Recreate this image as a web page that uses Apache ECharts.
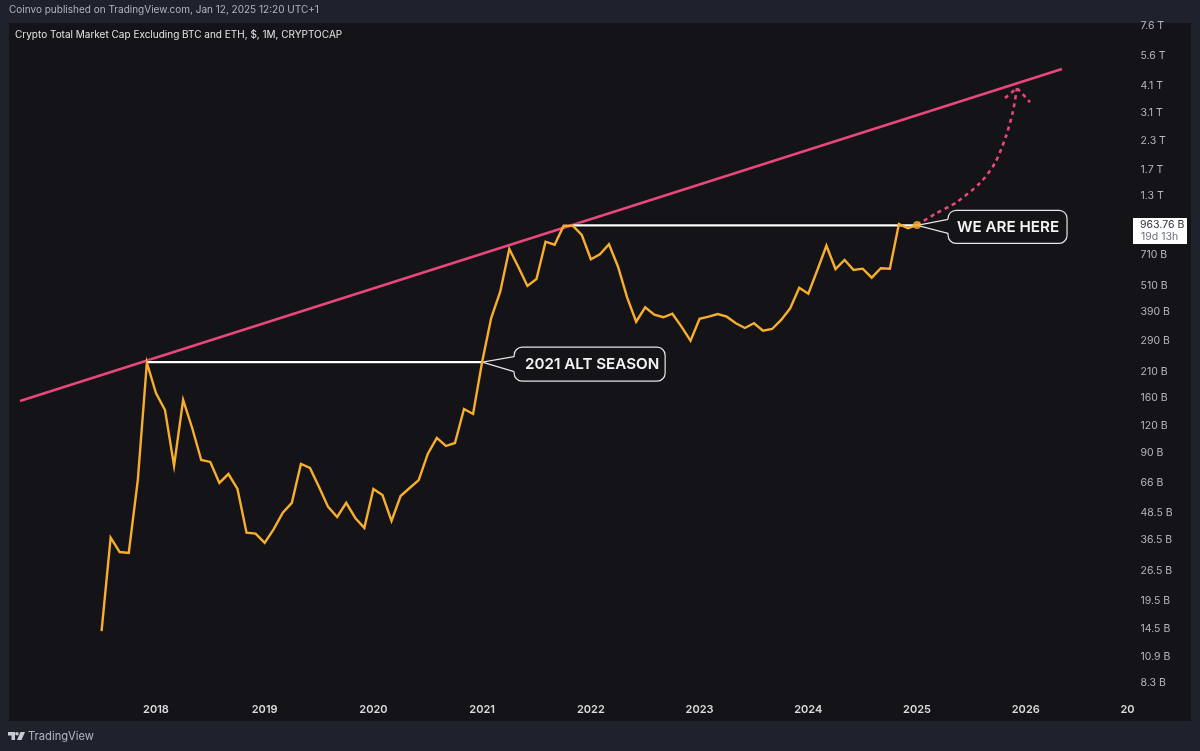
<!DOCTYPE html>
<html>
<head>
<meta charset="utf-8">
<title>Crypto Total Market Cap Excluding BTC and ETH</title>
<script src="https://cdn.jsdelivr.net/npm/echarts@6/dist/echarts.min.js"></script>
<style>
  html, body { margin: 0; padding: 0; background: #1e222d; }
  #chart { width: 1200px; height: 751px; }
</style>
</head>
<body>
<div id="chart"></div>
<script>
// monthly closes in billions of USD, first one is Jul 2017
const firstMonth = 2017.5
const monthlyCloses = [
  14.2, 37.5, 32.3, 32.0, 68.2, 230.6,
  168.4, 141.1, 79.2, 156.6, 117.1, 84.0, 82.3, 66.2, 72.6, 62.2, 39.5, 39.1,
  35.5, 41.0, 48.6, 53.8, 80.6, 77.3, 63.5, 51.6, 46.5, 53.8, 46.0, 41.5,
  62.2, 58.4, 44.6, 57.8, 62.8, 68.2, 89.4, 105.6, 97.1, 100.2, 142.6, 135.4,
  232.3, 366.8, 482.1, 750.9, 622.9, 511.5, 550, 810.2, 785.2, 956, 956, 868.4,
  674.9, 710.6, 788.5, 625, 454.7, 353, 410, 379.6, 369.6, 383.6, 335.2, 289.8,
  364, 371.9, 382.4, 371.9, 347.2, 330.7, 347.2, 321.5, 327.3, 359.4, 405.7, 502.4,
  472.1, 603.9, 777, 610.2, 669.9, 603.9, 612.2, 557.5, 614.7, 612.2, 973, 930.9,
  963.76
]
const lastPrice = [2025, 963.76]

// drawn annotations: [year, billions]
const trendLine = [[2016.75, 155], [2026.333, 4864]]
const levelOld = [[2017.9167, 232], [2021, 232]]
const levelNow = [[2021.8333, 960], [2025, 960]]
const projection = [
  [2025, 963.76], [2025.165, 1080], [2025.367, 1223], [2025.579, 1490],
  [2025.717, 1834], [2025.818, 2420], [2025.882, 3130], [2025.919, 3995]
]
const arrowHead = [[2025.809, 3601], [2025.919, 3995], [2026.039, 3454]]
const callouts = [
  [2021, 232, '2021 ALT SEASON'],
  [2025, 960, 'WE ARE HERE']
]

const yearTicks = [2018, 2019, 2020, 2021, 2022, 2023, 2024, 2025, 2026, 2027]
const priceTicks = [7600, 5600, 4100, 3100, 2300, 1700, 1300, 710, 510, 390, 290, 210,
  160, 120, 90, 66, 48.5, 36.5, 26.5, 19.5, 14.5, 10.9, 8.3]

const closes = monthlyCloses.map((v, i) => [firstMonth + i / 12, v])

const PANEL = '#131318'
const PINK = '#e9477c'
const ORANGE = '#f7ae2d'
const FONT = 'Inter'

// callout geometry, relative to the tip
const calloutBoxes = {
  '2021 ALT SEASON': { left: 32, right: 183, top: -15, bottom: 19, a: -5.5, b: 9.5, textDx: 2.5 },
  'WE ARE HERE': { left: 31, right: 150, top: -15, bottom: 18, a: -6, b: 8, textDx: 0.5 }
}

function renderCallout(params, api) {
  const tip = api.coord([api.value(0), api.value(1)])
  const text = callouts[params.dataIndex][2]
  const b = calloutBoxes[text]
  const x0 = tip[0] + b.left
  const x1 = tip[0] + b.right
  const y0 = tip[1] + b.top
  const y1 = tip[1] + b.bottom
  const stroke = { stroke: '#e6e6e8', lineWidth: 1.2, fill: 'none' }
  return {
    type: 'group',
    children: [
      {
        type: 'rect',
        shape: { x: x0, y: y0, width: x1 - x0, height: y1 - y0, r: 8 },
        style: { fill: PANEL, stroke: '#e6e6e8', lineWidth: 1.2 }
      },
      {
        type: 'polygon',
        shape: { points: [tip, [x0 + 1, tip[1] + b.a], [x0 + 1, tip[1] + b.b]] },
        style: { fill: PANEL }
      },
      { type: 'polyline', shape: { points: [[x0, tip[1] + b.a], tip, [x0, tip[1] + b.b]] }, style: stroke },
      {
        type: 'text',
        x: (x0 + x1) / 2 + b.textDx,
        y: (y0 + y1) / 2 + 0.5,
        style: {
          text: text,
          fill: '#f4f4f5',
          font: '600 15.2px ' + FONT,
          align: 'center',
          verticalAlign: 'middle'
        }
      }
    ]
  }
}

// white price tag on the scale
function renderPriceTag(params, api) {
  const y = api.coord([api.value(0), api.value(1)])[1]
  return {
    type: 'group',
    children: [
      {
        type: 'rect',
        shape: { x: 1133, y: y - 7, width: 54, height: 26 },
        style: { fill: '#ffffff' }
      },
      {
        type: 'text',
        x: 1140,
        y: y - 0.5,
        style: { text: '963.76 B', fill: '#2a2e39', font: '10.5px ' + FONT, verticalAlign: 'middle' }
      },
      {
        type: 'text',
        x: 1141,
        y: y + 12,
        style: { text: '19d 13h', fill: '#6a6d78', font: '10.5px ' + FONT, verticalAlign: 'middle' }
      }
    ]
  }
}

const myChart = echarts.init(document.getElementById('chart'), null, { renderer: 'canvas' })

const option = {
  animation: false,
  backgroundColor: '#1e222d',
  textStyle: { fontFamily: FONT },
  grid: { left: 11, top: 23, width: 1123.5, height: 672 },
  xAxis: {
    type: 'value',
    min: 2016.667,
    max: 2027,
    axisLine: { show: false },
    axisTick: { show: false },
    splitLine: { show: false },
    axisLabel: {
      customValues: yearTicks,
      margin: 9,
      color: '#dcdcde',
      fontSize: 11,
      fontWeight: 600,
      fontFamily: FONT,
      alignMaxLabel: 'right',
      formatter: v => (Math.round(v) === 2027 ? '20' : String(Math.round(v)))
    }
  },
  yAxis: {
    type: 'log',
    logBase: 10,
    position: 'right',
    min: 7.32,
    max: 7846,
    axisLine: { show: false },
    axisTick: { show: false },
    splitLine: { show: false },
    axisLabel: {
      customValues: priceTicks,
      margin: 6,
      color: '#b6b7bc',
      fontSize: 10.5,
      fontFamily: FONT,
      padding: [4, 0, 0, 0],
      formatter: v => (v >= 1000 ? v / 1000 + ' T' : v + ' B')
    }
  },
  graphic: [
    { type: 'rect', z: -10, silent: true, shape: { x: 9, y: 23, width: 1182, height: 698 }, style: { fill: PANEL } },
    { type: 'text', left: 9, top: 5, style: { text: 'Coinvo published on TradingView.com, Jan 12, 2025 12:20 UTC+1', fill: '#b2b5be', font: '10px ' + FONT } },
    { type: 'text', left: 15, top: 30, style: { text: 'Crypto Total Market Cap Excluding BTC and ETH, $, 1M, CRYPTOCAP', fill: '#e4e4e6', font: '10px ' + FONT } },
    { type: 'text', left: 28, top: 731, style: { text: 'TradingView', fill: '#b2b5be', font: '11.2px ' + FONT } },
    // logo
    { type: 'polygon', shape: { points: [[8, 732], [15, 732], [15, 740], [11.5, 740], [11.5, 735.5], [8, 735.5]] }, style: { fill: '#c9cbd2' } },
    { type: 'circle', shape: { cx: 17, cy: 733.8, r: 1.8 }, style: { fill: '#c9cbd2' } },
    { type: 'polygon', shape: { points: [[20.5, 732], [25, 732], [21.5, 740], [17, 740]] }, style: { fill: '#c9cbd2' } }
  ],
  series: [
    {
      name: 'trend',
      type: 'line',
      z: 2,
      data: trendLine,
      showSymbol: false,
      lineStyle: { color: PINK, width: 2.6 }
    },
    {
      name: 'projection',
      type: 'line',
      z: 2,
      data: projection,
      smooth: 0.25,
      showSymbol: false,
      lineStyle: { color: PINK, width: 2.6, type: [4, 4] }
    },
    {
      name: 'arrow',
      type: 'line',
      z: 2,
      data: arrowHead,
      showSymbol: false,
      lineStyle: { color: PINK, width: 2.6, type: [4, 4] }
    },
    {
      name: 'level 2018',
      type: 'line',
      z: 3,
      data: levelOld,
      showSymbol: false,
      lineStyle: { color: '#ffffff', width: 2.4, shadowColor: '#000', shadowBlur: 2 }
    },
    {
      name: 'level 2021',
      type: 'line',
      z: 3,
      data: levelNow,
      showSymbol: false,
      lineStyle: { color: '#ffffff', width: 2.4, shadowColor: '#000', shadowBlur: 2 }
    },
    {
      name: 'callouts',
      type: 'custom',
      z: 4,
      clip: false,
      renderItem: renderCallout,
      data: callouts.map(c => [c[0], c[1]])
    },
    {
      name: 'Crypto Total Market Cap Excluding BTC and ETH',
      type: 'line',
      z: 5,
      data: closes,
      showSymbol: false,
      lineStyle: { color: ORANGE, width: 2.4, join: 'miter' }
    },
    {
      name: 'last',
      type: 'scatter',
      z: 6,
      data: [lastPrice],
      symbolSize: 8,
      itemStyle: { color: ORANGE }
    },
    {
      name: 'price tag',
      type: 'custom',
      z: 7,
      clip: false,
      renderItem: renderPriceTag,
      data: [lastPrice]
    }
  ]
}
myChart.setOption(option)
</script>
</body>
</html>
